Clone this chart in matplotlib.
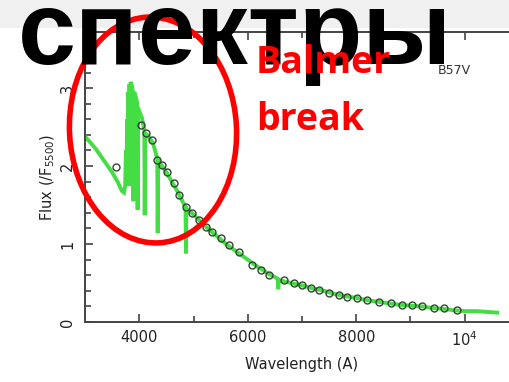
import matplotlib
matplotlib.use("Agg")
import matplotlib.pyplot as plt
from matplotlib.patches import Ellipse, Rectangle
from matplotlib.ticker import MultipleLocator, FixedLocator

# spectrum of B5 V star (flux normalised at 5500 A)
wave = [3000, 3100, 3200, 3300, 3400, 3500, 3600, 3680, 3720, 3740, 3755, 3765,
        3775, 3785, 3800, 3812, 3820, 3828, 3840, 3870, 3882, 3889, 3896, 3910,
        3950, 3962, 3970, 3978, 3990, 4050, 4093, 4101, 4109, 4150, 4250, 4332,
        4340, 4348, 4400, 4500, 4700, 4840, 4853, 4861, 4869, 4880, 5000, 5200,
        5400, 5600, 5800, 6000, 6200, 6400, 6520, 6556, 6563, 6570, 6620, 6800,
        7000, 7200, 7400, 7600, 7800, 8000, 8200, 8400, 8600, 8800, 9000, 9200,
        9400, 9600, 9800, 10000, 10200, 10400, 10600]
flux = [2.38, 2.30, 2.22, 2.12, 2.02, 1.92, 1.80, 1.68, 1.66, 1.75, 2.20, 1.75,
        2.60, 1.80, 2.95, 1.75, 3.05, 2.10, 3.08, 3.02, 2.95, 1.55, 2.90, 2.95,
        2.85, 2.80, 1.44, 2.75, 2.72, 2.62, 2.45, 1.37, 2.42, 2.40, 2.30, 2.10,
        1.14, 2.08, 2.02, 1.92, 1.68, 1.49, 1.48, 0.88, 1.46, 1.45, 1.38, 1.24,
        1.12, 1.00, 0.90, 0.80, 0.70, 0.61, 0.57, 0.55, 0.42, 0.54, 0.53, 0.50,
        0.47, 0.43, 0.40, 0.36, 0.33, 0.31, 0.28, 0.26, 0.24, 0.22, 0.21, 0.20,
        0.18, 0.17, 0.15, 0.14, 0.14, 0.13, 0.12]

# synthetic photometry points
pt_wave = [3576, 4037, 4129, 4240, 4332, 4424, 4516, 4645, 4737, 4866, 4977,
           5106, 5235, 5346, 5512, 5659, 5843, 6083, 6249, 6396, 6673, 6857,
           7005, 7171, 7318, 7502, 7687, 7834, 8018, 8203, 8424, 8645, 8848,
           9032, 9217, 9438, 9622, 9862]
pt_flux = [1.99, 2.53, 2.42, 2.33, 2.08, 2.01, 1.92, 1.78, 1.63, 1.47, 1.40,
           1.31, 1.22, 1.15, 1.08, 0.99, 0.90, 0.73, 0.67, 0.60, 0.54, 0.50,
           0.47, 0.44, 0.41, 0.37, 0.35, 0.32, 0.31, 0.28, 0.26, 0.24, 0.22,
           0.22, 0.20, 0.18, 0.18, 0.15]

W, H = 510, 382
fig = plt.figure(figsize=(W / 100, H / 100), dpi=100)
fig.patch.set_facecolor("white")

# grey slide header band
fig.patches.append(Rectangle((0, 1 - 28 / H), 1, 28 / H, transform=fig.transFigure,
                             facecolor="#f0f0f0", edgecolor="none", zorder=0))

ax = fig.add_axes([85 / W, 60 / H, (519 - 85) / W, (322 - 32) / H])
ax.plot(wave, flux, color="#44dd44", lw=2.8, solid_joinstyle="miter", zorder=2)
ax.plot(pt_wave, pt_flux, "o", ms=5, mfc="none", mec="#334433", mew=1.0, zorder=3)

ax.set_xlim(3000, 11000)
ax.set_ylim(0, 3.72)
ax.xaxis.set_major_locator(FixedLocator([4000, 6000, 8000, 10000]))
ax.xaxis.set_minor_locator(FixedLocator([5000, 7000, 9000]))
ax.yaxis.set_major_locator(MultipleLocator(1))
ax.yaxis.set_minor_locator(MultipleLocator(0.2))
ax.set_xticklabels(["4000", "6000", "8000", "$10^4$"])
ax.tick_params(which="both", direction="in", top=True, right=True, color="#444444",
               width=1.2, labelsize=10.5, labelcolor="#222222")
ax.tick_params(which="major", length=6)
ax.tick_params(which="minor", length=4)
ax.tick_params(axis="x", pad=6)
for lab in ax.get_yticklabels():
    lab.set_rotation(90)
    lab.set_va("center")
ax.tick_params(axis="y", pad=7)
for s in ax.spines.values():
    s.set_color("#444444")
    s.set_linewidth(1.4)
ax.set_xlabel("Wavelength (A)", fontsize=10.5, color="#222222", labelpad=6)
ax.set_ylabel("Flux (/F$_{5500}$)", fontsize=10.5, color="#222222", labelpad=2)

fig.text(438 / W, 1 - 70 / H, "B57V", fontsize=9, color="#333333", va="center")

# slide annotations
fig.patches.append(Ellipse((1.53, (H - 130) / 100), 1.67, 2.26, angle=3,
                           transform=fig.dpi_scale_trans, fill=False,
                           edgecolor="red", lw=4, zorder=10))
fig.text(18 / W, 1 - 64 / H, "спектры", family="Liberation Sans", weight="bold",
         fontsize=75, color="black", va="baseline", zorder=11)
fig.text(256 / W, 1 - 73 / H, "Balmer", family="Open Sans", weight="bold", fontsize=27,
         color="red", va="baseline", zorder=12)
fig.text(256 / W, 1 - 130 / H, "break", family="Open Sans", weight="bold", fontsize=27,
         color="red", va="baseline", zorder=12)

fig.savefig("out.png", dpi=100)
